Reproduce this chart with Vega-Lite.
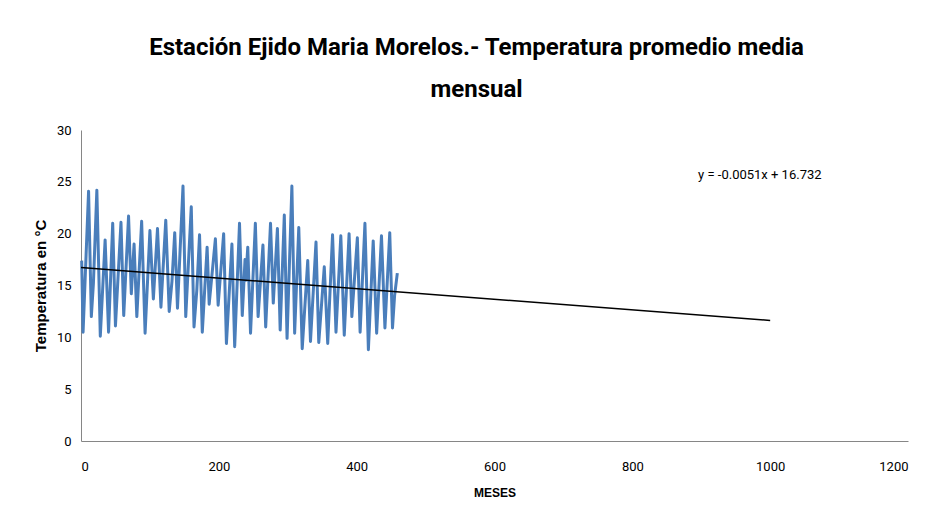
{
  "$schema": "https://vega.github.io/schema/vega-lite/v6.json",
  "width": 827,
  "height": 311,
  "autosize": {"type": "none"},
  "padding": {"left": 81, "top": 130, "right": 31, "bottom": 85},
  "background": "white",
  "title": {
    "text": ["Estación Ejido Maria Morelos.- Temperatura promedio media", "mensual"],
    "font": "Roboto, Liberation Sans, sans-serif",
    "fontSize": 24,
    "fontWeight": "bold",
    "color": "#000000",
    "anchor": "middle",
    "dx": -18,
    "offset": 22,
    "lineHeight": 42
  },
  "config": {
    "view": {"stroke": null},
    "axis": {
      "domainColor": "#868686",
      "domainWidth": 1,
      "ticks": false,
      "grid": false,
      "labelFont": "Roboto, Liberation Sans, sans-serif",
      "labelFontSize": 13,
      "labelColor": "#000000",
      "titleFont": "Liberation Sans, sans-serif",
      "titleFontWeight": "bold",
      "titleColor": "#000000"
    }
  },
  "layer": [
    {
      "data": {"values": [
        {"mes": 1, "temp": 17.4}, {"mes": 3, "temp": 10.5}, {"mes": 11, "temp": 24.1}, {"mes": 15, "temp": 12.0},
        {"mes": 18, "temp": 15.2}, {"mes": 23, "temp": 24.2}, {"mes": 28, "temp": 10.1}, {"mes": 35, "temp": 19.4},
        {"mes": 40, "temp": 10.5}, {"mes": 46, "temp": 21.0}, {"mes": 50, "temp": 11.1}, {"mes": 58, "temp": 21.1},
        {"mes": 62, "temp": 12.1}, {"mes": 69, "temp": 21.7}, {"mes": 73, "temp": 14.2}, {"mes": 77, "temp": 19.0},
        {"mes": 81, "temp": 12.0}, {"mes": 88, "temp": 21.2}, {"mes": 93, "temp": 10.4}, {"mes": 100, "temp": 20.3},
        {"mes": 105, "temp": 13.7}, {"mes": 111, "temp": 20.5}, {"mes": 116, "temp": 12.9}, {"mes": 123, "temp": 21.3},
        {"mes": 128, "temp": 12.5}, {"mes": 132, "temp": 15.4}, {"mes": 136, "temp": 20.1}, {"mes": 140, "temp": 12.8},
        {"mes": 148, "temp": 24.6}, {"mes": 152, "temp": 12.0}, {"mes": 160, "temp": 22.6}, {"mes": 164, "temp": 11.0},
        {"mes": 168, "temp": 14.5}, {"mes": 172, "temp": 19.9}, {"mes": 176, "temp": 10.5}, {"mes": 183, "temp": 18.7},
        {"mes": 186, "temp": 13.2}, {"mes": 195, "temp": 19.5}, {"mes": 199, "temp": 13.1}, {"mes": 207, "temp": 20.0},
        {"mes": 211, "temp": 9.4}, {"mes": 219, "temp": 19.0}, {"mes": 223, "temp": 9.1}, {"mes": 230, "temp": 21.0},
        {"mes": 234, "temp": 12.1}, {"mes": 238, "temp": 17.5}, {"mes": 239, "temp": 15.5}, {"mes": 242, "temp": 18.7},
        {"mes": 246, "temp": 10.4}, {"mes": 253, "temp": 21.0}, {"mes": 257, "temp": 12.0}, {"mes": 264, "temp": 18.9},
        {"mes": 268, "temp": 11.0}, {"mes": 275, "temp": 21.0}, {"mes": 279, "temp": 13.3}, {"mes": 285, "temp": 20.5},
        {"mes": 289, "temp": 10.7}, {"mes": 295, "temp": 21.8}, {"mes": 299, "temp": 9.9}, {"mes": 306, "temp": 24.6},
        {"mes": 310, "temp": 10.4}, {"mes": 316, "temp": 20.6}, {"mes": 321, "temp": 8.9}, {"mes": 329, "temp": 17.4},
        {"mes": 333, "temp": 9.6}, {"mes": 341, "temp": 19.2}, {"mes": 345, "temp": 9.5}, {"mes": 353, "temp": 16.8},
        {"mes": 358, "temp": 9.4}, {"mes": 365, "temp": 19.9}, {"mes": 370, "temp": 10.5}, {"mes": 377, "temp": 19.8},
        {"mes": 382, "temp": 10.2}, {"mes": 389, "temp": 20.0}, {"mes": 393, "temp": 12.0}, {"mes": 401, "temp": 19.6},
        {"mes": 405, "temp": 10.5}, {"mes": 412, "temp": 21.0}, {"mes": 417, "temp": 8.8}, {"mes": 424, "temp": 19.3},
        {"mes": 429, "temp": 10.4}, {"mes": 436, "temp": 19.8}, {"mes": 441, "temp": 10.9}, {"mes": 448, "temp": 20.1},
        {"mes": 452, "temp": 10.9}, {"mes": 455, "temp": 14.0}, {"mes": 459, "temp": 16.2}
      ]},
      "mark": {"type": "line", "color": "#4a7ebb", "strokeWidth": 3, "strokeJoin": "round"},
      "encoding": {
        "x": {"field": "mes", "type": "quantitative", "scale": {"domain": [0, 1200], "nice": false},
          "axis": {"title": "MESES", "titleFontSize": 12, "values": [0, 200, 400, 600, 800, 1000, 1200], "format": "d", "labelPadding": 19, "titlePadding": 14}},
        "y": {"field": "temp", "type": "quantitative", "scale": {"domain": [0, 30], "nice": false},
          "axis": {"title": "Temperatura en °C", "titleFontSize": 15, "values": [0, 5, 10, 15, 20, 25, 30], "labelPadding": 10, "titlePadding": 8}}
      }
    },
    {
      "data": {"values": [{"mes": 0, "temp": 16.732}, {"mes": 1000, "temp": 11.632}]},
      "mark": {"type": "line", "color": "#000000", "strokeWidth": 1.5},
      "encoding": {
        "x": {"field": "mes", "type": "quantitative"},
        "y": {"field": "temp", "type": "quantitative"}
      }
    },
    {
      "data": {"values": [{"mes": 985, "temp": 25.7, "label": "y = -0.0051x + 16.732"}]},
      "mark": {"type": "text", "font": "Roboto, Liberation Sans, sans-serif", "fontSize": 13, "color": "#000000", "align": "center", "baseline": "middle"},
      "encoding": {
        "x": {"field": "mes", "type": "quantitative"},
        "y": {"field": "temp", "type": "quantitative"},
        "text": {"field": "label"}
      }
    }
  ]
}
